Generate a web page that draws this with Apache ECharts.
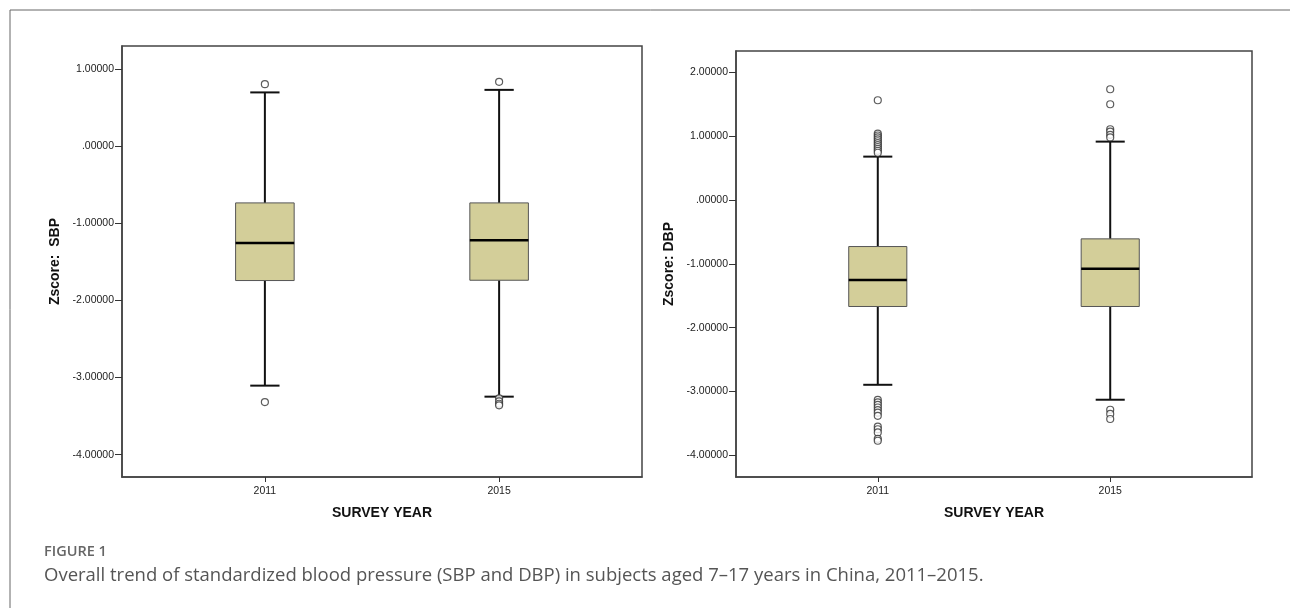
<html>
<head>
    <meta charset="utf-8">
    <script src="https://cdn.jsdelivr.net/npm/echarts/dist/echarts.min.js"></script>
    <style>
        html, body {
            margin: 0;
            padding: 0;
            background: #fff;
        }
        #main {
            width: 1290px;
            height: 608px;
        }
    </style>
</head>
<body>
<div id="main"></div>
<script>
    // survey years (x positions)
    var years = [2011, 2015];

    // [lower whisker, Q1, median, Q3, upper whisker] per year
    var sbpStats = [
        [-3.105, -1.742, -1.254, -0.735, 0.698],
        [-3.248, -1.738, -1.219, -0.735, 0.731]
    ];
    var dbpStats = [
        [-2.894, -1.668, -1.255, -0.729, 0.679],
        [-3.128, -1.668, -1.078, -0.609, 0.914]
    ];

    // outliers, one list per year
    var sbpOutliers = [
        [0.805, -3.318],
        [0.835, -3.27, -3.31, -3.34, -3.36]
    ];
    var dbpOutliers = [
        [1.562, 1.04, 1.01, 0.98, 0.95, 0.92, 0.89, 0.86, 0.83, 0.80, 0.77, 0.74,
            -3.13, -3.17, -3.21, -3.25, -3.29, -3.33, -3.38, -3.55, -3.59, -3.64, -3.74, -3.77],
        [1.734, 1.499, 1.108, 1.07, 1.02, 0.98, -3.285, -3.35, -3.43]
    ];

    var yTicks = [-4, -3, -2, -1, 0, 1];
    var yTicksDbp = [-4, -3, -2, -1, 0, 1, 2];

    function boxData(stats) {
        var out = [];
        for (var i = 0; i < years.length; i++) {
            out.push([years[i]].concat(stats[i]));
        }
        return out;
    }

    function pointData(lists) {
        var out = [];
        for (var i = 0; i < years.length; i++) {
            for (var j = 0; j < lists[i].length; j++) {
                out.push([years[i], lists[i][j]]);
            }
        }
        return out;
    }

    function spssFmt(v) {
        if (v === 0) return '.00000';
        return v.toFixed(5);
    }

    // SPSS style box: thin grey frame, heavy median, short caps
    function renderBox(params, api) {
        var x = api.value(0);
        var lo = api.coord([x, api.value(1)]);
        var q1 = api.coord([x, api.value(2)]);
        var md = api.coord([x, api.value(3)]);
        var q3 = api.coord([x, api.value(4)]);
        var hi = api.coord([x, api.value(5)]);
        var half = api.size([1, 0])[0] / 2;
        var cap = half / 2;
        var cx = md[0];
        var black = {stroke: '#111', lineWidth: 2};
        return {
            type: 'group',
            children: [
                {type: 'line', shape: {x1: cx, y1: lo[1], x2: cx, y2: q1[1]}, style: black},
                {type: 'line', shape: {x1: cx, y1: q3[1], x2: cx, y2: hi[1]}, style: black},
                {type: 'line', shape: {x1: cx - cap, y1: lo[1], x2: cx + cap, y2: lo[1]}, style: black},
                {type: 'line', shape: {x1: cx - cap, y1: hi[1], x2: cx + cap, y2: hi[1]}, style: black},
                {
                    type: 'rect',
                    shape: {x: cx - half, y: q3[1], width: half * 2, height: q1[1] - q3[1]},
                    style: {fill: '#d3ce99', stroke: '#555', lineWidth: 1}
                },
                {type: 'line', shape: {x1: cx - half, y1: md[1], x2: cx + half, y2: md[1]},
                    style: {stroke: '#000', lineWidth: 2.5}}
            ]
        };
    }

    var labelFont = {fontFamily: 'Liberation Sans', fontSize: 10.5, color: '#222'};
    var nameFont = {fontFamily: 'Liberation Sans', fontSize: 14, fontWeight: 'bold', color: '#111'};

    function xAxisFor(idx) {
        return {
            type: 'value',
            gridIndex: idx,
            min: 2008.56,
            max: 2017.44,
            name: 'SURVEY YEAR',
            nameLocation: 'middle',
            nameGap: 29,
            nameTextStyle: nameFont,
            axisLine: {show: true, onZero: false, lineStyle: {color: '#444', width: 1.5}},
            axisTick: {show: true, length: 5, customValues: years, lineStyle: {color: '#333'}},
            axisLabel: {
                customValues: years, margin: 9,
                formatter: function (v) { return String(v); },
                fontFamily: labelFont.fontFamily, fontSize: labelFont.fontSize, color: labelFont.color
            },
            splitLine: {show: false}
        };
    }

    function yAxisFor(idx, name, min, max, ticks) {
        return {
            type: 'value',
            gridIndex: idx,
            min: min,
            max: max,
            name: name,
            nameLocation: 'middle',
            nameGap: 60,
            nameTextStyle: nameFont,
            axisLine: {show: true, onZero: false, lineStyle: {color: '#444', width: 1.5}},
            axisTick: {show: true, length: 7, customValues: ticks, lineStyle: {color: '#333'}},
            axisLabel: {
                customValues: ticks, margin: 8,
                formatter: spssFmt,
                fontFamily: labelFont.fontFamily, fontSize: labelFont.fontSize, color: labelFont.color
            },
            splitLine: {show: false}
        };
    }

    var chart = echarts.init(document.getElementById('main'));

    var option = {
        backgroundColor: '#fff',
        animation: false,
        grid: [
            {left: 122, top: 46, right: 648, bottom: 131, show: true, borderColor: '#444', borderWidth: 1.5},
            {left: 736, top: 51, right: 38, bottom: 131, show: true, borderColor: '#444', borderWidth: 1.5}
        ],
        xAxis: [xAxisFor(0), xAxisFor(1)],
        yAxis: [
            yAxisFor(0, 'Zscore:  SBP', -4.29, 1.30, yTicks),
            yAxisFor(1, 'Zscore: DBP', -4.338, 2.333, yTicksDbp)
        ],
        graphic: [
            {
                type: 'rect', z: -1, silent: true,
                shape: {x: 10, y: 10, width: 1320, height: 700},
                style: {fill: 'none', stroke: '#666', lineWidth: 1}
            },
            {
                type: 'text', x: 44, y: 552,
                style: {text: 'FIGURE 1', font: '600 14.5px "Open Sans"', fill: '#666', verticalAlign: 'middle'}
            },
            {
                type: 'text', x: 44, y: 576,
                style: {
                    text: 'Overall trend of standardized blood pressure (SBP and DBP) in subjects aged 7\u201317 years in China, 2011\u20132015.',
                    font: '18.5px "Open Sans"', fill: '#555', verticalAlign: 'middle'
                }
            }
        ],
        series: [
            {
                type: 'custom', xAxisIndex: 0, yAxisIndex: 0,
                renderItem: renderBox,
                encode: {x: 0, y: [1, 2, 3, 4, 5]},
                data: boxData(sbpStats)
            },
            {
                type: 'scatter', xAxisIndex: 0, yAxisIndex: 0,
                symbol: 'circle', symbolSize: 7,
                itemStyle: {color: '#fff', borderColor: '#333', borderWidth: 1.2},
                data: pointData(sbpOutliers)
            },
            {
                type: 'custom', xAxisIndex: 1, yAxisIndex: 1,
                renderItem: renderBox,
                encode: {x: 0, y: [1, 2, 3, 4, 5]},
                data: boxData(dbpStats)
            },
            {
                type: 'scatter', xAxisIndex: 1, yAxisIndex: 1,
                symbol: 'circle', symbolSize: 7,
                itemStyle: {color: '#fff', borderColor: '#333', borderWidth: 1.2},
                data: pointData(dbpOutliers)
            }
        ]
    };

    chart.setOption(option);
</script>
</body>
</html>
